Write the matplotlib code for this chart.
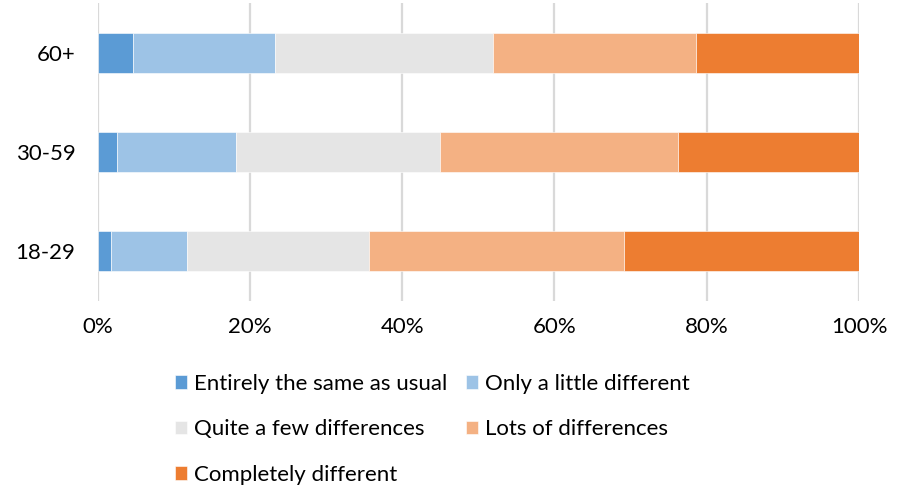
import matplotlib.pyplot as plt
import numpy as np

# age groups, bottom to top as in the chart
groups = ['18-29', '30-59', '60+']
series = ['Entirely the same as usual', 'Only a little different',
          'Quite a few differences', 'Lots of differences', 'Completely different']
same = [1.8, 2.5, 4.6]
little = [9.9, 15.7, 18.7]
quite = [24.0, 26.8, 28.6]
lots = [33.5, 31.2, 26.7]
completely = [30.8, 23.8, 21.4]
colors = ['#5b9bd5', '#9dc3e6', '#e5e5e5', '#f4b183', '#ed7d31']

plt.rcParams['font.family'] = ['Lato', 'DejaVu Sans']
fs = 16

fig = plt.figure(figsize=(9.08, 4.9), dpi=100)
ax = fig.add_axes([0.1076, 0.3867, 0.8384, 0.6062])

y = np.arange(len(groups))
left = np.zeros(len(groups))
bars = []
for name, vals, c in zip(series, [same, little, quite, lots, completely], colors):
    b = ax.barh(y, vals, left=left, height=0.4, color=c, label=name,
                edgecolor='white', linewidth=0.4, zorder=3)
    bars.append(b)
    left += np.array(vals)

ax.set_xlim(0, 100)
ax.set_ylim(-0.5, 2.5)
ax.set_xticks(np.arange(0, 101, 20))
ax.set_xticklabels([f'{v}%' for v in range(0, 101, 20)])
ax.set_yticks(y)
ax.set_yticklabels(groups)
ax.tick_params(axis='both', length=0, labelsize=fs, colors='#000000')
ax.tick_params(axis='y', pad=16)
ax.tick_params(axis='x', pad=12)
ax.grid(axis='x', color='#d9d9d9', linewidth=1.6, zorder=0)
for s in ax.spines.values():
    s.set_visible(False)

# legend fills column-wise, so reorder to get row-wise layout
order = [0, 2, 4, 1, 3]
fig.legend([bars[i] for i in order], [series[i] for i in order],
           loc='upper left', bbox_to_anchor=(175 / 908, 1 - 374 / 490),
           ncol=2, frameon=False, fontsize=fs, borderpad=0, borderaxespad=0,
           handlelength=0.55, handleheight=0.55, handletextpad=0.3,
           labelspacing=1.14, columnspacing=0.85)

fig.savefig('out.png', dpi=100)
